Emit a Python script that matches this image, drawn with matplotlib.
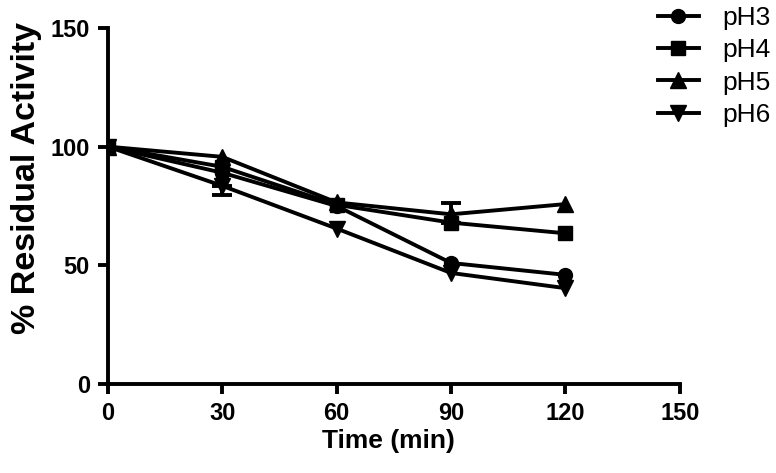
import numpy as np
import matplotlib
matplotlib.use('Agg')
import matplotlib.pyplot as plt

plt.rcParams['font.family'] = ['Liberation Sans', 'DejaVu Sans']

# data
time_min = [0, 30, 60, 90, 120]
ph3 = [100, 89, 75, 51, 46]
ph4 = [100, 91.5, 75.5, 68, 63.5]
ph5 = [100, 95.7, 76.5, 71.5, 75.8]
ph6 = [100, 83.5, 65.5, 46.8, 40.4]
# one-sided error bars (GraphPad style), only where visible
ph4_err_x, ph4_err_up = [90], [8.3]
ph6_err_x, ph6_err_down = [30], [3.8]

fig = plt.figure(figsize=(7.76, 4.73), dpi=100)
ax = fig.add_axes([0.139, 0.188, 0.737, 0.753])

lw = 2.8
ms = 10
h3, = ax.plot(time_min, ph3, color='black', lw=lw, marker='o', ms=ms, label='pH3')
h4, = ax.plot(time_min, ph4, color='black', lw=lw, marker='s', ms=ms - 0.5, label='pH4')
h5, = ax.plot(time_min, ph5, color='black', lw=lw, marker='^', ms=ms + 1, label='pH5')
h6, = ax.plot(time_min, ph6, color='black', lw=lw, marker='v', ms=ms + 1, label='pH6')

ph4_at = [ph4[time_min.index(t)] for t in ph4_err_x]
ph6_at = [ph6[time_min.index(t)] for t in ph6_err_x]
ax.errorbar(ph4_err_x, ph4_at, yerr=[[0] * len(ph4_err_up), ph4_err_up], fmt='none',
            ecolor='black', elinewidth=lw, capsize=7, capthick=lw)
ax.errorbar(ph6_err_x, ph6_at, yerr=[ph6_err_down, [0] * len(ph6_err_down)], fmt='none',
            ecolor='black', elinewidth=lw, capsize=7, capthick=lw)

ax.set_xlim(0, 150)
ax.set_ylim(0, 150)
ax.set_xticks([0, 30, 60, 90, 120, 150])
ax.set_yticks([0, 50, 100, 150])
for s in ['top', 'right']:
    ax.spines[s].set_visible(False)
for s in ['left', 'bottom']:
    ax.spines[s].set_linewidth(2.8)
ax.tick_params(direction='out', length=7, width=2.8, labelsize=17, pad=6)
for lab in ax.get_xticklabels() + ax.get_yticklabels():
    lab.set_fontweight('bold')
ax.set_xlabel('Time (min)', fontsize=19, fontweight='bold')
ax.set_ylabel('% Residual Activity', fontsize=24.5, fontweight='bold')
ax.xaxis.set_label_coords(0.49, -0.125)
ax.yaxis.set_label_coords(-0.115, 0.579)

fig.legend([h3, h4, h5, h6], ['pH3', 'pH4', 'pH5', 'pH6'], loc='upper left',
           bbox_to_anchor=(0.817, 1.037), frameon=False, fontsize=19,
           handlelength=1.55, handletextpad=0.9, labelspacing=0.31)

fig.savefig('out.png', dpi=100)
